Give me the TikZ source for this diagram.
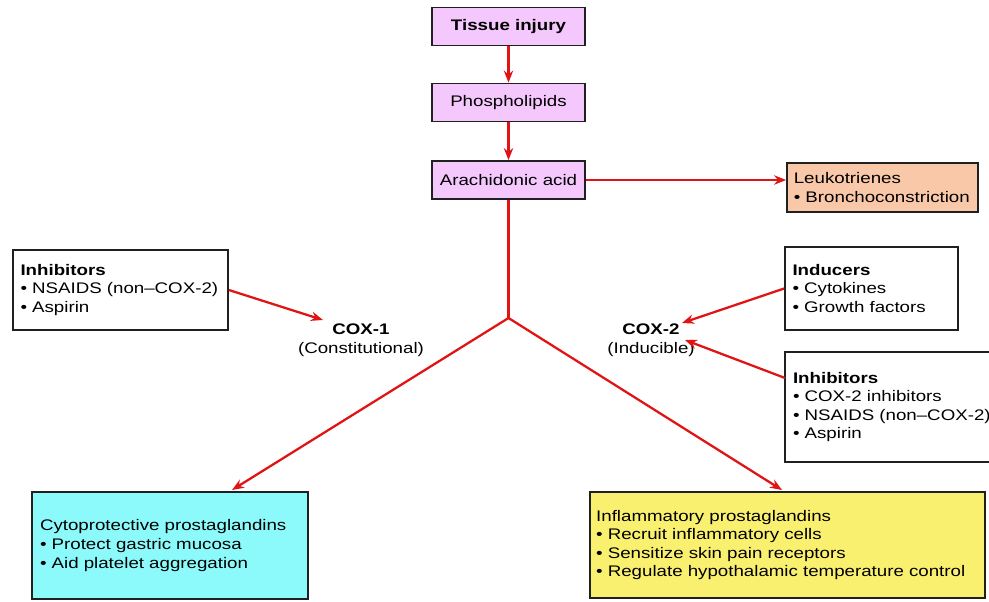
\documentclass[tikz,border=0pt]{standalone}
\usepackage{fontspec}
\setmainfont[FakeStretch=1.22]{Liberation Sans}
\usetikzlibrary{arrows.meta}
\definecolor{pinkbox}{HTML}{F4C8FC}
\definecolor{peachbox}{HTML}{F9C8A8}
\definecolor{cyanbox}{HTML}{8CFAFA}
\definecolor{yellowbox}{HTML}{FAF070}
\definecolor{boxline}{HTML}{202020}
\definecolor{arrowred}{HTML}{E01414}
\begin{document}
\begin{tikzpicture}[x=0.75pt,y=-0.75pt,
  font=\fontsize{11.5}{13.9}\selectfont,
  box/.style={draw=boxline, line width=1.3pt, inner sep=0pt, align=left},
  pinkstep/.style={box, fill=pinkbox, align=center, minimum width=114.75pt, minimum height=28.5pt},
  redline/.style={draw=arrowred, line width=1.7pt},
  redarrow/.style={redline, -{Stealth[length=9pt,width=7pt]}},
  coxlabel/.style={align=center, inner sep=0pt}
]
\useasboundingbox (0,0) rectangle (989,601);
\fill[white] (0,0) rectangle (989,601);

% central chain
\node[pinkstep] (tissue) at (508.5,26.5) {\textbf{Tissue injury}};
\node[pinkstep] (phospho) at (508.5,102.5) {Phospholipids};
\node[pinkstep] (arach) at (508.5,180) {Arachidonic acid};

% side boxes
\node[box, fill=peachbox, minimum width=143.25pt, minimum height=36.75pt, text width=133pt] (leuko) at (882.5,187.5)
  {Leukotrienes\\\textbullet\ Bronchoconstriction};
\node[box, fill=white, minimum width=161.25pt, minimum height=60pt, text width=150pt] (inhL) at (120.5,290)
  {\textbf{Inhibitors}\\\textbullet\ NSAIDS (non–COX-2)\\\textbullet\ Aspirin};
\node[box, fill=white, minimum width=129.75pt, minimum height=62.25pt, text width=118.5pt] (induc) at (871.5,288.5)
  {\textbf{Inducers}\\\textbullet\ Cytokines\\\textbullet\ Growth factors};
\node[box, fill=white, minimum width=162pt, minimum height=82.5pt, text width=150pt] (inhR) at (893,407)
  {\textbf{Inhibitors}\\\textbullet\ COX-2 inhibitors\\\textbullet\ NSAIDS (non–COX-2)\\\textbullet\ Aspirin};
\node[box, fill=cyanbox, minimum width=207pt, minimum height=80.25pt, text width=195pt] (cyto) at (170,545.5)
  {Cytoprotective prostaglandins\\\textbullet\ Protect gastric mucosa\\\textbullet\ Aid platelet aggregation};
\node[box, fill=yellowbox, minimum width=296.25pt, minimum height=79.5pt, text width=287pt] (inflam) at (787.5,545)
  {Inflammatory prostaglandins\\\textbullet\ Recruit inflammatory cells\\\textbullet\ Sensitize skin pain receptors\\\textbullet\ Regulate hypothalamic temperature control};

% enzyme labels
\node[coxlabel] (cox1) at (361,340) {\textbf{COX-1}\\(Constitutional)};
\node[coxlabel] (cox2) at (651,340) {\textbf{COX-2}\\(Inducible)};

% connector points
\coordinate (junc) at (508.5,318);
\coordinate (tipL) at (232,490);
\coordinate (tipR) at (782,490);
\coordinate (cox1in) at (323,320);
\coordinate (cox2inA) at (682,323);
\coordinate (cox2inB) at (685,340);
\coordinate (inhRout) at (785,378);

% connectors
\draw[redarrow] (tissue.south) -- (phospho.north);
\draw[redarrow] (phospho.south) -- (arach.north);
\draw[redarrow] (arach.east) -- (arach.east -| leuko.west);
\draw[redline] (arach.south) -- (junc);
\draw[redarrow] (junc) -- (tipL);
\draw[redarrow] (junc) -- (tipR);
\draw[redarrow] (inhL.east) -- (cox1in);
\draw[redarrow] (induc.west) -- (cox2inA);
\draw[redarrow] (inhRout) -- (cox2inB);
\end{tikzpicture}
\end{document}
